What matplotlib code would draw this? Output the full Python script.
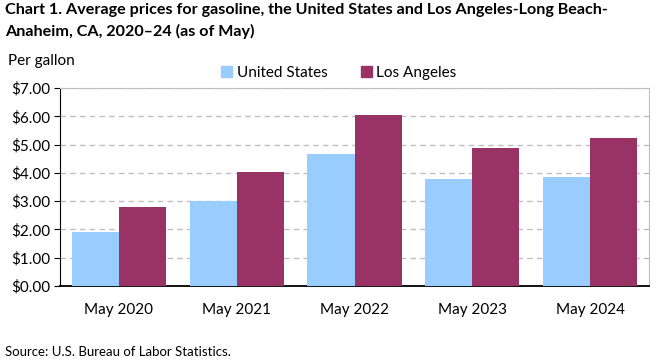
import numpy as np
import matplotlib.pyplot as plt
from matplotlib.patches import Patch
from matplotlib.ticker import FuncFormatter

years = ["May 2020", "May 2021", "May 2022", "May 2023", "May 2024"]
us_prices = [1.92, 3.00, 4.67, 3.78, 3.85]
la_prices = [2.79, 4.03, 6.05, 4.88, 5.23]

us_color = "#99ccff"
la_color = "#993366"

plt.rcParams['font.family'] = ['Lato', 'DejaVu Sans']

fig = plt.figure(figsize=(6.61, 3.61), dpi=100)
ax = fig.add_axes([60 / 661, 1 - 286 / 361, 589 / 661, 198 / 361])

x = np.arange(len(years))
w = 0.4
ax.bar(x - w / 2, us_prices, w, color=us_color, zorder=3)
ax.bar(x + w / 2, la_prices, w, color=la_color, zorder=3)

ax.set_xlim(-0.5, len(years) - 0.5)
ax.set_ylim(0, 7)
ax.set_yticks(np.arange(0, 8, 1))
ax.yaxis.set_major_formatter(FuncFormatter(lambda v, p: f"${v:.2f}"))
ax.set_xticks(x)
ax.set_xticklabels(years)
ax.tick_params(axis='x', length=0, pad=12, labelsize=11)
ax.tick_params(axis='y', length=4, direction='out', labelsize=11, pad=3)

ax.grid(axis='y', color='#bfbfbf', linestyle=(0, (4, 3)), linewidth=1, zorder=0)
for s in ['top', 'right']:
    ax.spines[s].set_color('#bfbfbf')
for s in ['left', 'bottom']:
    ax.spines[s].set_color('black')
ax.spines['bottom'].set_linewidth(1.3)

fig.text(5 / 661, 1 - 3 / 361,
         "Chart 1. Average prices for gasoline, the United States and Los Angeles-Long Beach-\nAnaheim, CA, 2020\u201324 (as of May)",
         ha='left', va='top', fontsize=11.6, fontweight='bold', linespacing=1.6)
fig.text(8 / 661, 1 - 61 / 361, "Per gallon", ha='left', va='center', fontsize=11)
fig.text(5 / 661, 1 - 352 / 361, "Source: U.S. Bureau of Labor Statistics.",
         ha='left', va='center', fontsize=9.5)

handles = [Patch(color=us_color, label="United States"),
           Patch(color=la_color, label="Los Angeles")]
fig.legend(handles=handles, loc='center', bbox_to_anchor=(339 / 661, 1 - 73 / 361),
           ncol=2, frameon=False, fontsize=11, handlelength=0.7, handleheight=0.7,
           handletextpad=0.3, columnspacing=2.2)

fig.savefig("out.png", dpi=100)
